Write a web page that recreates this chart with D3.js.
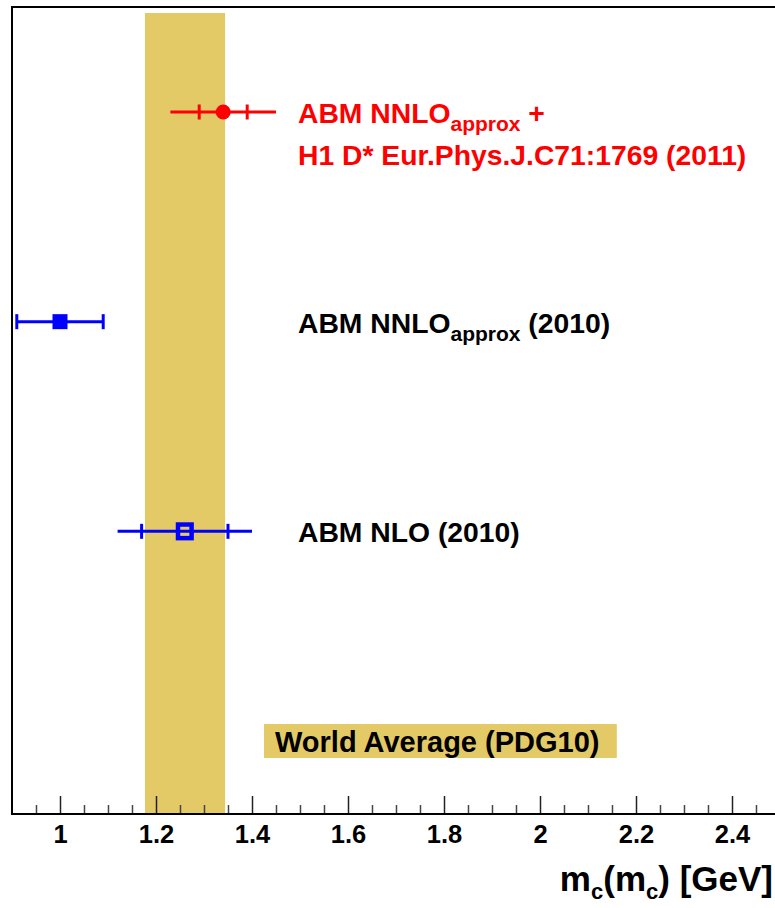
<!DOCTYPE html>
<html>
<head>
<meta charset="utf-8">
<script src="https://cdn.jsdelivr.net/npm/d3@7"></script>
<style>
  html, body { margin: 0; padding: 0; background: #fff; }
  svg { display: block; font-family: "Liberation Sans", Arial, sans-serif; font-weight: bold; }
</style>
</head>
<body>
<svg id="chart" width="775" height="908"></svg>
<script>
// ---- data ----
const rows = [1, 2, 3];                       // row index (bottom to top)
const centralValues = [1.26, 1.00, 1.34];     // m_c(m_c) [GeV]
const innerErrors   = [0.09, 0, 0.05];        // marked with ticks
const totalErrors   = [0.14, 0.09, 0.11];
const markerTypes   = ["openSquare", "filledSquare", "circle"];
const seriesColors  = ["#0000ff", "#0000ff", "#ff0000"];
const endCaps       = [false, true, false];
const worldAverageRange = [1.177, 1.344];
const worldAverageLabel = "World Average (PDG10)";
const majorTicks = [1.0, 1.2, 1.4, 1.6, 1.8, 2.0, 2.2, 2.4];
const tickLabels = ["1", "1.2", "1.4", "1.6", "1.8", "2", "2.2", "2.4"];
const minorTicks = [0.95,1.05,1.1,1.15,1.25,1.3,1.35,1.45,1.5,1.55,1.65,1.7,1.75,1.85,1.9,1.95,2.05,2.1,2.15,2.25,2.3,2.35,2.45];

const svg = d3.select("#chart");
const x = d3.scaleLinear().domain([0.9, 2.5]).range([12, 780]);
const y = d3.scaleLinear().domain([0, 3]).range([741, 112]);
const frameTop = 7, frameBottom = 814;

// world average band
svg.append("rect")
  .attr("x", x(worldAverageRange[0])).attr("y", 13)
  .attr("width", x(worldAverageRange[1]) - x(worldAverageRange[0]))
  .attr("height", frameBottom - 1 - 13)
  .attr("fill", "#e3ca67");

// axis minor ticks
const minorAxis = d3.axisBottom(x).tickValues(minorTicks).tickSize(-9).tickFormat("");
const gMinor = svg.append("g").attr("transform", `translate(0,${frameBottom})`).call(minorAxis);
gMinor.select(".domain").remove();
gMinor.selectAll(".tick line").attr("stroke", "#444").attr("stroke-width", 1.5);

const majorAxis = d3.axisBottom(x).tickValues(majorTicks).tickSize(-18).tickPadding(11)
  .tickFormat((d, i) => tickLabels[i]);
const gMajor = svg.append("g").attr("transform", `translate(0,${frameBottom})`).call(majorAxis);
gMajor.select(".domain").remove();
gMajor.selectAll(".tick line").attr("stroke", "#222").attr("stroke-width", 1.5);
gMajor.selectAll(".tick text").attr("font-size", 25.5).attr("font-weight", "bold")
  .attr("font-family", "'Liberation Sans', Arial, sans-serif").attr("fill", "#000");

// frame
svg.append("path")
  .attr("d", `M${x(2.5)},${frameTop} L${x(0.9)},${frameTop} L${x(0.9)},${frameBottom} L${x(2.5)},${frameBottom}`)
  .attr("fill", "none").attr("stroke", "#000").attr("stroke-width", 2);

// points
rows.forEach((r, i) => {
  const cy = y(r);
  const c = seriesColors[i];
  const g = svg.append("g");
  const lw = 3;
  g.append("line")
    .attr("x1", x(centralValues[i] - totalErrors[i])).attr("x2", x(centralValues[i] + totalErrors[i]))
    .attr("y1", cy).attr("y2", cy).attr("stroke", c).attr("stroke-width", lw);
  if (innerErrors[i] > 0) {
    [-1, 1].forEach(s => {
      const xx = x(centralValues[i] + s * innerErrors[i]);
      g.append("line").attr("x1", xx).attr("x2", xx).attr("y1", cy - 7.5).attr("y2", cy + 7.5)
        .attr("stroke", c).attr("stroke-width", lw);
    });
  }
  if (endCaps[i]) {
    [-1, 1].forEach(s => {
      const xx = x(centralValues[i] + s * totalErrors[i]);
      g.append("line").attr("x1", xx).attr("x2", xx).attr("y1", cy - 7.5).attr("y2", cy + 7.5)
        .attr("stroke", c).attr("stroke-width", lw);
    });
  }
  const cx = x(centralValues[i]);
  if (markerTypes[i] === "circle") {
    g.append("circle").attr("cx", cx).attr("cy", cy).attr("r", 7.5).attr("fill", c);
  } else if (markerTypes[i] === "filledSquare") {
    g.append("rect").attr("x", cx - 7.5).attr("y", cy - 7.5).attr("width", 15).attr("height", 15).attr("fill", c);
  } else {
    g.append("rect").attr("x", cx - 6.8).attr("y", cy - 6.8).attr("width", 13.6).attr("height", 13.6)
      .attr("fill", "none").attr("stroke", c).attr("stroke-width", 4.5);
  }
});

// labels
const labelX = 298;
function label(yb, color, parts) {
  const t = svg.append("text").attr("x", labelX).attr("y", yb).attr("fill", color).attr("font-size", 28.3);
  parts.forEach(p => {
    const ts = t.append("tspan").text(p.t);
    if (p.sub) ts.attr("font-size", 21).attr("dy", 8);
    if (p.up) ts.attr("dy", -8);
  });
}
label(123, "#ff0000", [{t: "ABM NNLO"}, {t: "approx", sub: true}, {t: "\u00a0+", up: true}]);
label(165, "#ff0000", [{t: "H1 D* Eur.Phys.J.C71:1769 (2011)"}]);
label(333, "#000", [{t: "ABM NNLO"}, {t: "approx", sub: true}, {t: "\u00a0(2010)", up: true}]);
label(542, "#000", [{t: "ABM NLO (2010)"}]);

// world average box
svg.append("rect").attr("x", x(1.425)).attr("y", 724).attr("width", x(2.16) - x(1.425)).attr("height", 34)
  .attr("fill", "#e3ca67");
svg.append("text").attr("x", 275).attr("y", 752).attr("font-size", 29).attr("fill", "#000").text(worldAverageLabel);

// axis title
const title = svg.append("text").attr("x", 773).attr("y", 891).attr("text-anchor", "end")
  .attr("font-size", 35).attr("fill", "#000");
title.append("tspan").text("m");
title.append("tspan").text("c").attr("font-size", 22).attr("dy", 8);
title.append("tspan").text("(m").attr("dy", -8);
title.append("tspan").text("c").attr("font-size", 22).attr("dy", 8);
title.append("tspan").text(") [GeV]").attr("dy", -8);
</script>
</body>
</html>
